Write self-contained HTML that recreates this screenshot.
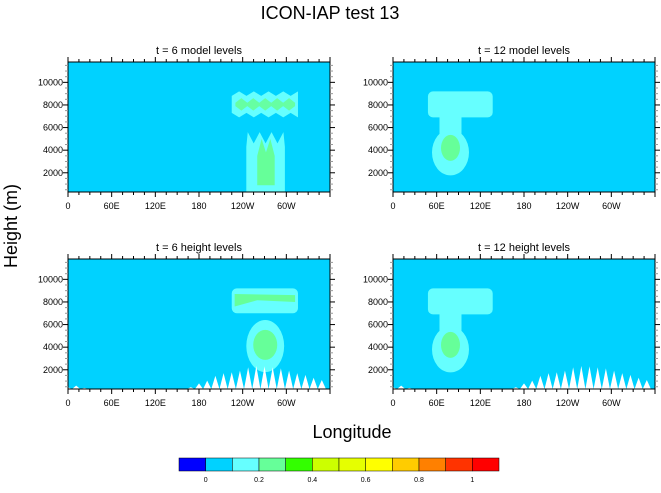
<!DOCTYPE html>
<html><head><meta charset="utf-8"><style>
body{margin:0;background:#fff;}
svg{display:block;font-family:"Liberation Sans",sans-serif;}
</style></head><body>
<svg id="chart" width="661" height="493" viewBox="0 0 661 493">
<text x="330" y="19" font-size="18" text-anchor="middle">ICON-IAP test 13</text>
<text x="0" y="0" font-size="18" text-anchor="middle" transform="translate(17,226) rotate(-90)">Height (m)</text>
<text x="352" y="438" font-size="18" text-anchor="middle">Longitude</text>
<g id="panels"></g>
<g id="cbar"></g>
</svg>
<script>
const panelTitles=["t = 6 model levels","t = 12 model levels","t = 6 height levels","t = 12 height levels"];
const lonTicks=[0,60,120,180,240,300];
const lonLabels=["0","60E","120E","180","120W","60W"];
const hTicks=[2000,4000,6000,8000,10000];
const cbLevels=[0,0.2,0.4,0.6,0.8,1];
const cbColors=["#0000ff","#00d2ff","#66ffff","#66ff99","#33ff00","#ccff00","#e6ff00","#ffff00","#ffcc00","#ff8000","#ff3300","#ff0000"];
// mountain peak heights above surface (m) at lon = 0..360 step 11.25
const mountainPeaks=[150,300,100,0,0,0,0,0,0,0,0,0,0,0,0,150,500,740,1170,1400,1480,1630,1920,2040,2000,1920,1830,1630,1400,1250,1000,800];
const W=262,H=130,HMIN=300,HMAX=11800;
const origins=[[68,62],[393,62],[68,259],[393,259]];
const NS="http://www.w3.org/2000/svg";
function el(tag,attrs,parent){const e=document.createElementNS(NS,tag);for(const k in attrs)e.setAttribute(k,attrs[k]);parent.appendChild(e);return e;}
const pg=document.getElementById('panels');
origins.forEach((o,i)=>{
 const xs=l=>o[0]+l/360*W, ys=h=>o[1]+H-(h-HMIN)/(HMAX-HMIN)*H;
 const g=el('g',{},pg);
 
 
 const bg=el('rect',{x:o[0],y:o[1],width:W,height:H,fill:'#00d2ff'},g);
 
 
 const t=el('text',{x:o[0]+W/2,y:o[1]-8,'font-size':11,'text-anchor':'middle'},g);t.textContent=panelTitles[i];
 
 
 const cl=el('clipPath',{id:'c'+i},g);el('rect',{x:o[0],y:o[1],width:W,height:H},cl);
 const f=el('g',{'clip-path':'url(#c'+i+')'},g);
 const C1='#66ffff',C2='#66ff99';
 if(i===0||i===2){
  const wavy=(i===0);
  const hx0=xs(225),hx1=xs(316),hy0=ys(9200),hy1=ys(7000);
  if(wavy){
   let d='M'+hx0+','+ys(7700)+' ';let n=9;
   for(let k=0;k<=n;k++){const x=hx0+(hx1-hx0)*k/n;d+='L'+x+','+(k%2?ys(9200):ys(8800))+' ';}
   d+='L'+hx1+','+ys(7700)+' ';
   for(let k=n;k>=0;k--){const x=hx0+(hx1-hx0)*k/n;d+='L'+x+','+(k%2?ys(6900):ys(7300))+' ';}
   el('path',{d:d+'Z',fill:C1},f);
   let d2='M'+xs(230)+','+ys(8000)+' ';
   for(let k=0;k<=10;k++){const x=xs(230)+(xs(312)-xs(230))*k/10;d2+='L'+x+','+(k%2?ys(8600):ys(8200))+' ';}
   for(let k=10;k>=0;k--){const x=xs(230)+(xs(312)-xs(230))*k/10;d2+='L'+x+','+(k%2?ys(7500):ys(7900))+' ';}
   el('path',{d:d2+'Z',fill:C2,opacity:0.9},f);
   let d3='M'+xs(245)+','+ys(300)+' L'+xs(245)+','+ys(4300)+' ';
   for(let k=0;k<=6;k++){const x=xs(247)+(xs(296)-xs(247))*k/6;d3+='L'+x+','+(k%2?ys(4600):ys(5600))+' ';}
   d3+='L'+xs(298)+','+ys(4300)+' L'+xs(298)+','+ys(300)+' Z';
   el('path',{d:d3,fill:C1},f);
   el('path',{d:'M'+xs(260)+','+ys(900)+' L'+xs(260)+','+ys(3500)+' L'+xs(266)+','+ys(5000)+' L'+xs(272)+','+ys(3800)+' L'+xs(278)+','+ys(5000)+' L'+xs(284)+','+ys(3500)+' L'+xs(284)+','+ys(900)+' Z',fill:C2},f);
  } else {
   el('rect',{x:hx0,y:hy0,width:hx1-hx0,height:hy1-hy0,rx:5,fill:C1},f);
   el('path',{d:'M'+xs(229)+','+ys(8700)+' L'+xs(312)+','+ys(8600)+' L'+xs(312)+','+ys(8000)+' L'+xs(260)+','+ys(8150)+' L'+xs(229)+','+ys(7600)+' Z',fill:C2},f);
   el('ellipse',{cx:xs(271),cy:ys(4100),rx:xs(297)-xs(271),ry:ys(1800)-ys(4100),fill:C1},f);
   el('ellipse',{cx:xs(271),cy:ys(4200),rx:12,ry:15,fill:C2},f);
  }
 } else {
  el('rect',{x:xs(48),y:ys(9200),width:xs(137)-xs(48),height:ys(6900)-ys(9200),rx:5,fill:C1},f);
  el('rect',{x:xs(79)-11,y:ys(7000),width:22,height:20,fill:C1},f);
  el('ellipse',{cx:xs(79),cy:ys(3800),rx:18.5,ry:23,fill:C1},f);
  el('ellipse',{cx:xs(79),cy:ys(4200),rx:9.5,ry:13,fill:C2},f);
 }
 if(i>=2){
  mountainPeaks.forEach((p,k)=>{ if(p<=0)return;
   const lc=k*11.25, m=el('path',{d:'M'+xs(lc-5.6)+','+ys(HMIN)+' L'+xs(lc)+','+ys(HMIN+p)+' L'+xs(lc+5.6)+','+ys(HMIN)+' Z',fill:'#fff'},f);
   
   
  });
 }
 el('rect',{x:o[0],y:o[1],width:W,height:H,fill:'none',stroke:'#000','stroke-width':1},g);
 for(let l=0;l<=360;l+=15){const maj=l%60===0;el('line',{x1:xs(l),x2:xs(l),y1:o[1]+H,y2:o[1]+H+(maj?5:3),stroke:'#000'},g);el('line',{x1:xs(l),x2:xs(l),y1:o[1],y2:o[1]-(maj?5:3),stroke:'#000'},g);}
 lonTicks.forEach((l,k)=>{const tt=el('text',{x:xs(l),y:o[1]+H+17,'font-size':9,'text-anchor':'middle'},g);tt.textContent=lonLabels[k];
  
  });
 for(let h=500;h<=HMAX;h+=500){const maj=h%2000===0;el('line',{x1:o[0],x2:o[0]-(maj?5:3),y1:ys(h),y2:ys(h),stroke:maj?'#000':'#999'},g);el('line',{x1:o[0]+W,x2:o[0]+W+(maj?5:3),y1:ys(h),y2:ys(h),stroke:maj?'#000':'#999'},g);}
 hTicks.forEach(h=>{const tt=el('text',{x:o[0]-5,y:ys(h)+3,'font-size':9,'text-anchor':'end'},g);tt.textContent=h;
  
  });
});
const cb=document.getElementById('cbar');
const bw=(499-179)/cbColors.length;
cbColors.forEach((c,k)=>{const r=el('rect',{x:179+k*bw,y:458,width:bw,height:13,fill:c,stroke:'#000','stroke-width':0.5},cb);
 
 });
cbLevels.forEach(v=>{const t=el('text',{x:179+bw*(1+v*10),y:482,'font-size':7,'text-anchor':'middle'},cb);t.textContent=v;
 
 });
</script>
</body></html>
